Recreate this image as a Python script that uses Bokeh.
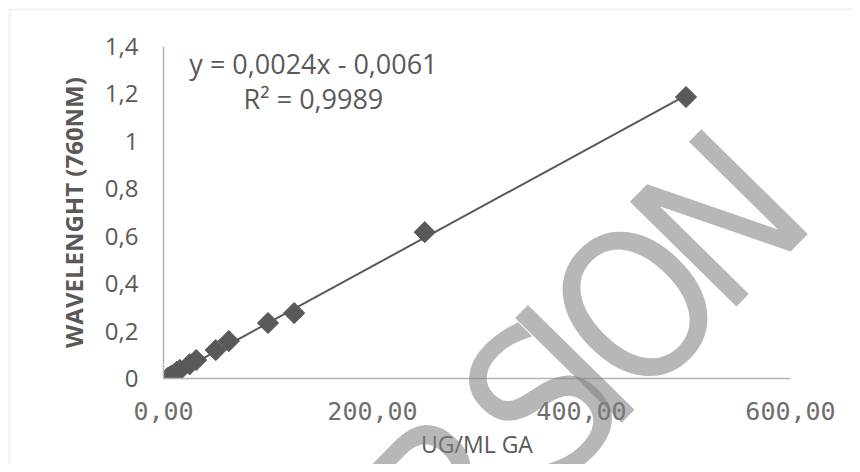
import math
from bokeh.plotting import figure
from bokeh.layouts import column
from bokeh.models import Range1d, FixedTicker, Label, BoxAnnotation
from bokeh.embed import file_html
from bokeh.resources import INLINE

# ---- data ----
conc = [500, 250, 125, 100, 62.5, 50, 31.25, 25, 15.63, 12.5, 7.81, 6.25, 3.91]
absorbance = [1.187, 0.617, 0.276, 0.234, 0.158, 0.120, 0.078, 0.060, 0.036, 0.028, 0.012, 0.008, 0.002]
trend_slope = 0.0024
trend_intercept = -0.0061
equation_text = "y = 0,0024x - 0,0061"
r2_text = "R² = 0,9989"
x_ticks = [0, 200, 400, 600]
x_tick_labels = ["0,00", "200,00", "400,00", "600,00"]
y_ticks = [0, 0.2, 0.4, 0.6, 0.8, 1.0, 1.2, 1.4]
y_tick_labels = ["0", "0,2", "0,4", "0,6", "0,8", "1", "1,2", "1,4"]
x_label = "UG/ML GA"
y_label = "WAVELENGHT (760NM)"

# watermark letters (positions in page pixels of the overlay)
watermark_letters = ["R", "S", "I", "O", "N"]
watermark_px = [453, 542, 577, 637, 721]
watermark_py = [493, 402, 366, 306, 220]

GRAY = "#595959"
W, H = 852, 464

p = figure(width=W, height=H, output_backend="svg", toolbar_location=None,
           x_range=Range1d(0, 600), y_range=Range1d(0, 1.4),
           min_border_left=163, min_border_right=62, min_border_top=46, min_border_bottom=86)
p.frame_align = False
p.outline_line_color = None
p.xgrid.visible = False
p.ygrid.visible = False
p.background_fill_color = "white"
p.border_fill_color = "white"

# axes
for ax in (p.xaxis[0], p.yaxis[0]):
    ax.axis_line_color = "#b4b4b4"
    ax.axis_line_width = 1.5
    ax.major_tick_line_color = None
    ax.minor_tick_line_color = None
    ax.major_tick_in = 0
    ax.major_tick_out = 0

p.xaxis.ticker = FixedTicker(ticks=x_ticks)
p.xaxis.major_label_overrides = {t: l for t, l in zip(x_ticks, x_tick_labels)}
p.xaxis.major_label_text_font = "DejaVu Sans Mono"
p.xaxis.major_label_text_font_size = "25px"
p.xaxis.major_label_text_color = "#6e6e6e"
p.xaxis.major_label_text_line_height = 0.8
p.xaxis.major_label_standoff = 23
p.xaxis.axis_label = x_label
p.xaxis.axis_label_text_font = "Open Sans"
p.xaxis.axis_label_text_font_size = "23px"
p.xaxis.axis_label_text_font_style = "normal"
p.xaxis.axis_label_text_color = GRAY
p.xaxis.axis_label_text_line_height = 0.8
p.xaxis.axis_label_standoff = 5

p.yaxis.ticker = FixedTicker(ticks=y_ticks)
p.yaxis.major_label_overrides = {t: l for t, l in zip(y_ticks, y_tick_labels)}
p.yaxis.major_label_text_font = "Open Sans"
p.yaxis.major_label_text_font_size = "24px"
p.yaxis.major_label_text_color = GRAY
p.yaxis.major_label_standoff = 25
p.yaxis.axis_label = y_label
p.yaxis.axis_label_text_font = "Open Sans"
p.yaxis.axis_label_text_font_size = "24px"
p.yaxis.axis_label_text_font_style = "bold"
p.yaxis.axis_label_text_color = GRAY
p.yaxis.axis_label_standoff = 12

# trendline
tx = [min(conc), max(conc)]
ty = [trend_slope * v + trend_intercept for v in tx]
p.line(tx, ty, line_color=GRAY, line_width=2)

# data points (diamonds)
p.scatter(conc, absorbance, marker="square", angle=math.pi / 4, size=15,
          fill_color=GRAY, line_color=GRAY)

# equation labels
p.add_layout(Label(x=143.5, y=1.328, text=equation_text, text_align="center",
                   text_baseline="middle", text_font="Open Sans",
                   text_font_size="27px", text_color=GRAY))
p.add_layout(Label(x=143.5, y=1.181, text=r2_text, text_align="center",
                   text_baseline="middle", text_font="Open Sans",
                   text_font_size="27px", text_color=GRAY))

# ---- transparent overlay: chart-area border + watermark ----
wm = figure(width=W, height=H, output_backend="svg", toolbar_location=None,
            x_range=Range1d(0, W), y_range=Range1d(H, 0),
            x_axis_type=None, y_axis_type=None, min_border=0)
wm.frame_align = False
wm.outline_line_color = None
wm.background_fill_alpha = 0
wm.border_fill_alpha = 0
wm.grid.visible = False
wm.add_layout(BoxAnnotation(left=9, right=W + 40, top=9, bottom=H + 40,
                            fill_color=None, line_color="#d2d2d2", line_width=2))
for ch, wx, wy in zip(watermark_letters, watermark_px, watermark_py):
    wm.add_layout(Label(x=wx, y=wy, text=ch, angle=math.radians(45.5),
                        text_align="center", text_baseline="middle",
                        text_font="DejaVu Sans Condensed, Liberation Sans, sans-serif",
                        text_font_size="205px", text_color="#808080", text_alpha=0.57))
wm.styles = {"position": "absolute", "left": "0px", "top": "0px"}

root = column(p, wm, styles={"position": "relative"})

open("out.html", "w").write(file_html(root, INLINE))
